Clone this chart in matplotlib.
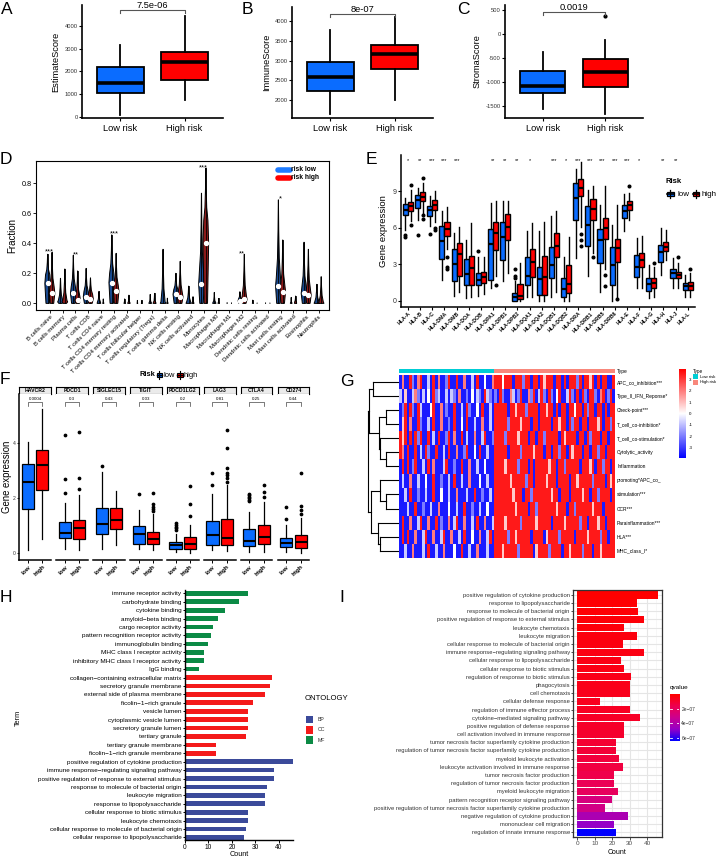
import numpy as np
import matplotlib
matplotlib.use('Agg')
import matplotlib.pyplot as plt
from matplotlib.patches import Rectangle, Polygon
from matplotlib.colors import LinearSegmentedColormap, Normalize

plt.rcParams['font.family'] = ['Liberation Sans', 'DejaVu Sans']

# ======================= DATA =======================
# A-C : ESTIMATE scores  [whisker_lo, q1, median, q3, whisker_hi]
risk_groups = ['Low risk', 'High risk']
estimate_low = [100, 1050, 1500, 2180, 3150]
estimate_high = [750, 1620, 2400, 2850, 4450]
immune_low = [1630, 2230, 2580, 2965, 3770]
immune_high = [1990, 2780, 3160, 3400, 4110]
stroma_low = [-1570, -1240, -1085, -780, -380]
stroma_high = [-1670, -1105, -795, -530, -140]
stroma_high_outliers = [366]
score_pvalues = ['7.5e-06', '8e-07', '0.0019']

# D : CIBERSORT fractions
cell_types = ['B cells naive', 'B cells memory', 'Plasma cells', 'T cells CD8', 'T cells CD4 naive',
              'T cells CD4 memory resting', 'T cells CD4 memory activated', 'T cells follicular helper',
              'T cells regulatory (Tregs)', 'T cells gamma delta', 'NK cells resting', 'NK cells activated',
              'Monocytes', 'Macrophages M0', 'Macrophages M1', 'Macrophages M2', 'Dendritic cells resting',
              'Dendritic cells activated', 'Mast cells resting', 'Mast cells activated', 'Eosinophils', 'Neutrophils']
frac_low_max = [0.327, 0.167, 0.32, 0.233, 0.08, 0.456, 0.03, 0.02, 0.06, 0.36, 0.2, 0.115,
                0.733, 0.073, 0.005, 0.078, 0.022, 0.004, 0.689, 0.04, 0.407, 0.127]
frac_low_med = [0.133, 0.01, 0.067, 0.044, 0.0, 0.138, 0.0, 0.0, 0.0, 0.0, 0.06, 0.0,
                0.127, 0.0, 0.0, 0.018, 0.0, 0.0, 0.116, 0.0, 0.067, 0.0]
frac_low_q3 = [0.19, 0.02, 0.11, 0.08, 0.01, 0.2, 0.0, 0.0, 0.0, 0.01, 0.09, 0.01,
               0.21, 0.0, 0.0, 0.03, 0.0, 0.0, 0.17, 0.0, 0.11, 0.01]
frac_high_max = [0.34, 0.229, 0.216, 0.17, 0.03, 0.333, 0.055, 0.02, 0.067, 0.035, 0.28, 0.045,
                 0.9, 0.033, 0.004, 0.327, 0.003, 0.003, 0.422, 0.049, 0.36, 0.178]
frac_high_med = [0.067, 0.01, 0.02, 0.03, 0.0, 0.082, 0.0, 0.0, 0.0, 0.0, 0.044, 0.0,
                 0.4, 0.0, 0.0, 0.027, 0.0, 0.0, 0.078, 0.0, 0.056, 0.0]
frac_high_q3 = [0.11, 0.02, 0.05, 0.06, 0.0, 0.12, 0.0, 0.0, 0.0, 0.0, 0.07, 0.0,
                0.55, 0.0, 0.0, 0.05, 0.0, 0.0, 0.12, 0.01, 0.09, 0.01]
frac_sig = ['***', '', '**', '', '', '***', '', '', '', '', '', '', '***', '', '', '**', '', '', '*', '', '', '']

# E : HLA genes
hla_genes = ['HLA-A', 'HLA-B', 'HLA-C', 'HLA-DMA', 'HLA-DMB', 'HLA-DOA', 'HLA-DOB', 'HLA-DPA1', 'HLA-DPB1',
             'HLA-DPB2', 'HLA-DQA1', 'HLA-DQA2', 'HLA-DQB1', 'HLA-DQB2', 'HLA-DRA', 'HLA-DRB1', 'HLA-DRB5',
             'HLA-DRB6', 'HLA-E', 'HLA-F', 'HLA-G', 'HLA-H', 'HLA-J', 'HLA-L']
hla_low = [[5.84, 7.02, 7.49, 7.98, 8.45], [6.66, 7.62, 8.31, 8.73, 9.28], [6.11, 6.94, 7.43, 7.76, 8.59],
           [1.7, 3.41, 4.95, 6.17, 7.35], [0.41, 1.65, 3.0, 4.24, 5.56], [0.19, 1.29, 2.2, 3.41, 5.0],
           [0.39, 1.29, 1.71, 2.26, 3.58], [1.02, 1.71, 4.65, 5.92, 8.04], [1.65, 3.36, 5.23, 6.52, 8.17],
           [0.0, 0.0, 0.33, 0.66, 1.6], [0.33, 1.29, 2.04, 3.58, 5.7], [0.0, 0.47, 1.76, 2.75, 5.7],
           [0.33, 1.84, 2.95, 4.4, 6.94], [0.0, 0.33, 0.94, 1.9, 3.63], [3.5, 6.66, 8.45, 9.69, 10.87],
           [2.04, 4.54, 6.25, 7.82, 9.08], [0.74, 3.08, 5.0, 5.89, 7.9], [0.0, 1.29, 2.95, 4.38, 6.25],
           [5.7, 6.8, 7.4, 7.9, 8.81], [1.02, 1.98, 2.81, 3.77, 5.15], [0.19, 0.83, 1.35, 1.84, 2.95],
           [2.12, 3.22, 3.99, 4.6, 5.97], [1.02, 1.84, 2.26, 2.59, 3.5], [0.33, 0.88, 1.21, 1.49, 2.12]]
hla_low_out = [[5.42, 5.23], [5.42], [5.48], [], [], [], [4.05], [], [], [1.84, 2.03, 2.6], [], [],
               [], [], [], [], [], [], [], [], [], [], [], []]
hla_high = [[6.6, 7.35, 7.76, 8.12, 9.14], [7.2, 8.17, 8.5, 8.92, 9.69], [6.52, 7.49, 7.9, 8.26, 9.0],
            [4.24, 5.34, 5.92, 6.52, 7.71], [0.74, 2.04, 3.83, 4.79, 6.06], [0.33, 1.29, 2.67, 3.69, 6.39],
            [0.55, 1.43, 1.98, 2.34, 3.6], [2.0, 4.18, 5.56, 6.52, 8.17], [2.26, 5.0, 6.06, 7.16, 8.17],
            [0.0, 0.14, 0.41, 1.38, 3.08], [0.33, 1.93, 3.22, 4.24, 6.39], [0.0, 0.47, 1.98, 3.69, 6.52],
            [0.74, 3.63, 4.54, 5.56, 7.35], [0.0, 0.6, 1.35, 2.95, 5.28], [6.1, 8.59, 9.28, 10.02, 11.4],
            [3.9, 6.66, 7.54, 8.37, 9.41], [2.6, 5.06, 5.97, 6.85, 9.41], [0.33, 3.22, 4.32, 5.09, 7.9],
            [6.61, 7.49, 7.9, 8.17, 8.86], [1.02, 2.75, 3.36, 3.96, 5.34], [0.33, 1.02, 1.43, 1.9, 2.75],
            [3.36, 4.05, 4.46, 4.82, 5.84], [1.02, 1.84, 2.12, 2.4, 3.08], [0.33, 0.88, 1.21, 1.51, 2.26]]
hla_high_out = [[9.55, 6.25], [10.1, 7.05, 6.72], [5.97, 5.78], [3.58, 2.8, 2.6], [], [], [], [1.29], [],
                [], [], [], [], [], [5.5, 5.0, 4.5], [3.58], [2.12, 1.21], [0.14], [9.47], [], [3.14],
                [], [3.58], [2.6]]
hla_sig = ['*', '**', '***', '***', '***', '', '', '**', '**', '**', '*', '', '***', '*', '***', '***',
           '***', '***', '***', '*', '', '**', '**', '']

# F : immune checkpoints
ck_genes = ['HAVCR2', 'PDCD1', 'SIGLEC15', 'TIGIT', 'PDCD1LG2', 'LAG3', 'CTLA4', 'CD274']
ck_low = [[0.12, 1.61, 2.58, 3.27, 4.06], [0.16, 0.55, 0.75, 1.13, 1.84], [0.16, 0.7, 1.07, 1.64, 2.95],
          [0.16, 0.36, 0.69, 0.99, 1.58], [0.06, 0.16, 0.3, 0.42, 0.7], [0.12, 0.3, 0.67, 1.18, 2.15],
          [0.06, 0.27, 0.46, 0.88, 1.52], [0.06, 0.22, 0.39, 0.55, 1.05]]
ck_low_out = [[], [2.2, 2.7, 4.3], [3.19], [2.16], [0.85, 0.92, 0.97, 1.03, 1.1], [2.48, 2.91],
              [1.9, 1.95, 2.0, 2.06, 2.12, 2.16], [1.27, 1.7]]
ck_high = [[0.51, 2.3, 3.21, 3.78, 5.25], [0.12, 0.51, 0.93, 1.21, 2.12], [0.3, 0.87, 1.21, 1.64, 2.27],
           [0.12, 0.36, 0.52, 0.79, 1.45], [0.02, 0.16, 0.36, 0.61, 1.05], [0.1, 0.3, 0.55, 1.24, 2.5],
           [0.06, 0.33, 0.61, 1.03, 1.88], [0.02, 0.18, 0.42, 0.67, 1.3]]
ck_high_out = [[], [2.34, 2.75, 4.42], [], [1.55, 1.62, 1.7, 1.79, 2.2], [1.37, 1.79, 2.45],
               [2.6, 2.75, 2.85, 2.93, 3.1, 3.82, 4.48], [2.06, 2.24, 2.5], [1.45, 1.58, 1.73, 2.93]]
ck_pvals = ['0.0004', '0.3', '0.43', '0.03', '0.2', '0.81', '0.25', '0.44']

# G : immune function ssGSEA heatmap (z-scores coded per sample)
immune_functions = ['APC_co_inhibition***', 'Type_II_IFN_Reponse*', 'Check-point***', 'T_cell_co-inhibition*',
                    'T_cell_co-stimulation*', 'Cytolytic_activity', 'Inflammation', 'promoting*APC_co_',
                    'stimulation***', 'CCR***', 'Parainflammation***', 'HLA***', 'MHC_class_I*']
heat_levels = {'B': -3.5, 'b': -2.0, 'l': -0.8, 'w': 0.0, 'o': 0.8, 'r': 2.0, 'R': 3.5}
heat_low = ["BrBBRbBrRB BlBRBrBBbR BBRBBrBBlB RBBwBBr",
            "lBoBBlrbBl BwBRblBBlB lbBrBBbBwB lbBRlbB",
            "BbRBRbBRlB BBwRBBrBbB BRBBlBRbBB wBRBBlB",
            "BoRBrBBRbB BlBRBBrBBb BRBBwBRBBl BBrBBlB",
            "RoRBRBRbRB BRBlBRBBbR BrBBRBlBBr BBlRBBb",
            "RrBRBBRBlB RbBBRBBlBR BBrBBbRBBw BRBBlBB",
            "BRBRBbRBBl BRBrBBBlRB BbBBRBBrBB lBBwBBB",
            "BlBBrBBlBB wBBRBBbBBl BRBBlBBrBB BwBBlBB",
            "BBlBRBBbBB lBBRBBwBBl BBrBBBlBBR BBbBBlB",
            "BBBlBBRBBb BBlBBrBBBw BBlBBRBBbB BlBBwBB",
            "BRBBrBBlRB BrBBRBbBBr BlRBBrBBlB RBBrBBl",
            "BRBRBBrBBl RBBrBBlRBB rBBlBRBBwB BrBBlRB",
            "BBlBBrBBBl BRBBlBBrBB BwBBRBBlBB rBBBlBB"]
heat_high = ["RRRwRRRBRR RbRRBRRBRo RRRBRRBRBR RRbRBRRoRB RBRRBBR",
             "bBRbBBrlBb RBBrbRBlRb BRbBwRBBlR bBRBRbBRRb BrRBbRB",
             "RRRRRBRRoR RRbRRRRBRR oRRBRBRRBR RwRRBRbRRB RRBRBRR",
             "RRRRRbRRRR oRRRBRRBRR RRBRRoRRBR bRRBRRBRRR oRBRRbR",
             "RRRRbRRRRo RRRBRRBRRb RRRRRBRoRR RRBRRBRbRR RBRRBRR",
             "RRRRRBRRRR bRRRRoRRRB RRBRRbRRBR oRRRBRRBRR bRRBRRR",
             "RRRRoRRRRb RRRBRBRRRR RoRRBRRbRR RRRBRRRoRB RRbRRBR",
             "RRRRRRoRRR RRbRRBRRRR oRRRBRRRRB RRoRRRRRbR RRRBRoR",
             "RRRRRRRoRR RBRRbRRRRR RRoRRBRRRB RRRRoRRBRR bRRRRBR",
             "RRRRRRRRoR RRRBRRbRRR RRRRoRRRBR RbRRRRRRoR RRBRRRR",
             "RRRRoRRRRR bRRRRRoRRR RRBRRRRoRR RRRbRRBRRR oRRBRRR",
             "RRRRRbRRoR RRRRBRRRRB oRRRRbRRRR RBRRRRoRRR RbRRBRR",
             "RRRoRRRRRb RRRRRBoRRR RbRRRRBRRo RRRRbRRRBR RoRRRRR"]
# dendrogram merges (child a, child b, height); leaves 0..12 in row order
dendro_merges = [(0, 1, 0.83), (2, 3, 0.42), (5, 6, 0.42), (4, 15, 0.59), (14, 16, 0.63),
                 (13, 17, 0.96), (8, 9, 0.40), (7, 19, 0.59), (11, 12, 0.59), (10, 21, 0.67),
                 (20, 22, 0.88), (18, 23, 1.0)]

# H : GO enrichment (top to bottom)
go_terms = ['immune receptor activity', 'carbohydrate binding', 'cytokine binding', 'amyloid\u2212beta binding',
            'cargo receptor activity', 'pattern recognition receptor activity', 'immunoglobulin binding',
            'MHC class I receptor activity', 'inhibitory MHC class I receptor activity', 'IgG binding',
            'collagen\u2212containing extracellular matrix', 'secretory granule membrane',
            'external side of plasma membrane', 'ficolin\u22121\u2212rich granule', 'vesicle lumen',
            'cytoplasmic vesicle lumen', 'secretory granule lumen', 'tertiary granule',
            'tertiary granule membrane', 'ficolin\u22121\u2212rich granule membrane',
            'positive regulation of cytokine production', 'immune response\u2212regulating signaling pathway',
            'positive regulation of response to external stimulus', 'response to molecule of bacterial origin',
            'leukocyte migration', 'response to lipopolysaccharide', 'cellular response to biotic stimulus',
            'leukocyte chemotaxis', 'cellular response to molecule of bacterial origin',
            'cellular response to lipopolysaccharide']
go_counts = [27, 23, 17, 14, 12, 11, 10, 8, 8, 6, 37, 36, 34, 29, 27, 27, 27, 26, 13, 13,
             46, 38, 38, 35, 34, 34, 27, 27, 26, 25]
go_ontology = ['MF'] * 10 + ['CC'] * 10 + ['BP'] * 10

# I : BP enrichment (top to bottom)
bp_terms = ['positive regulation of cytokine production', 'response to lipopolysaccharide',
            'response to molecule of bacterial origin', 'positive regulation of response to external stimulus',
            'leukocyte chemotaxis', 'leukocyte migration', 'cellular response to molecule of bacterial origin',
            'immune response\u2212regulating signaling pathway', 'cellular response to lipopolysaccharide',
            'cellular response to biotic stimulus', 'regulation of response to biotic stimulus', 'phagocytosis',
            'cell chemotaxis', 'cellular defense response', 'regulation of immune effector process',
            'cytokine\u2212mediated signaling pathway', 'positive regulation of defense response',
            'cell activation involved in immune response',
            'tumor necrosis factor superfamily cytokine production',
            'regulation of tumor necrosis factor superfamily cytokine production',
            'myeloid leukocyte activation', 'leukocyte activation involved in immune response',
            'tumor necrosis factor production', 'regulation of tumor necrosis factor production',
            'myeloid leukocyte migration', 'pattern recognition receptor signaling pathway',
            'positive regulation of tumor necrosis factor superfamily cytokine production',
            'negative regulation of cytokine production', 'mononuclear cell migration',
            'regulation of innate immune response']
bp_counts = [46, 34, 35, 38, 27, 34, 26, 38, 25, 27, 31, 30, 30, 13, 30, 36, 27, 27, 22, 22,
             24, 26, 21, 21, 23, 20, 16, 29, 21, 22]
bp_qvalues = [1.0e-8, 1.5e-8, 2.0e-8, 2.5e-8, 3.0e-8, 3.5e-8, 4.0e-8, 4.5e-8, 5.0e-8, 5.0e-8,
              5.5e-8, 6.0e-8, 6.5e-8, 7.0e-8, 8.0e-8, 8.5e-8, 9.0e-8, 1.0e-7, 1.1e-7, 1.2e-7,
              1.3e-7, 1.4e-7, 1.6e-7, 1.8e-7, 2.0e-7, 2.8e-7, 3.0e-7, 4.2e-7, 4.8e-7, 6.4e-7]

# ======================= FIGURE =======================
W, H = 719, 858
fig = plt.figure(figsize=(W / 100, H / 100), dpi=100)
fig.patch.set_facecolor('white')
BLUE = '#0A6CFF'
RED = '#FF0000'


def axp(l, t, r, b, **kw):
    return fig.add_axes([l / W, 1 - b / H, (r - l) / W, (b - t) / H], **kw)


def ftext(x, y, s, **kw):
    fig.text(x / W, 1 - y / H, s, **kw)


def overlay(l, t, r, b):
    ax = axp(l, t, r, b)
    ax.set_xlim(0, r - l)
    ax.set_ylim(b - t, 0)
    ax.axis('off')
    return ax


def make_stats(s, out=()):
    return dict(whislo=s[0], q1=s[1], med=s[2], q3=s[3], whishi=s[4], fliers=list(out))


def boxes(ax, stats, pos, colors, width, lw, mlw, ms):
    bp = ax.bxp(stats, positions=pos, widths=width, patch_artist=True, showcaps=False,
                boxprops=dict(linewidth=lw, edgecolor='black'),
                whiskerprops=dict(linewidth=lw, color='black'),
                medianprops=dict(linewidth=mlw, color='black', solid_capstyle='butt'),
                flierprops=dict(marker='o', markersize=ms, markerfacecolor='black',
                                markeredgecolor='black', linestyle='none'),
                manage_ticks=False)
    for b, c in zip(bp['boxes'], colors):
        b.set_facecolor(c)
    return bp


def glyph(ax, x0, x1, y0, y1, color, lw=0.8):
    xc = (x0 + x1) / 2
    ax.plot([xc, xc], [y0, y1], color='black', lw=lw)
    h = y1 - y0
    ax.add_patch(Rectangle((x0, y0 + 0.25 * h), x1 - x0, 0.5 * h, facecolor=color, edgecolor='black', lw=lw))
    ax.plot([x0, x1], [y0 + 0.5 * h, y0 + 0.5 * h], color='black', lw=lw * 1.3)


# panel letters
for lab, x, y in [('A', 1, 9), ('B', 242, 9), ('C', 457, 9), ('D', 0, 160), ('E', 366, 160),
                  ('F', 0, 380), ('G', 340, 381), ('H', 0, 598), ('I', 339, 598)]:
    ftext(x, y, lab, fontsize=12.5, va='center', ha='left')


# ---------------- A-C ----------------
def score_panel(box, low, high, high_out, ylim, yticks, ylabel, pval, by, drop):
    ax = axp(*box)
    boxes(ax, [make_stats(low), make_stats(high, high_out)], [1, 2], [BLUE, RED], 0.72, 1.3, 2.6, 2.0)
    ax.set_xlim(0.4, 2.6)
    ax.set_ylim(*ylim)
    ax.set_yticks(yticks, [str(v) for v in yticks])
    ax.set_xticks([1, 2], risk_groups)
    for s in ['top', 'right']:
        ax.spines[s].set_visible(False)
    for s in ['left', 'bottom']:
        ax.spines[s].set_linewidth(1.2)
    ax.tick_params(axis='y', labelsize=4.2, length=2, width=0.8, pad=1, labelcolor='#333333')
    ax.tick_params(axis='x', labelsize=6.7, length=2.5, width=0.8, pad=2)
    ax.set_ylabel(ylabel, fontsize=6.7, labelpad=3)
    ax.plot([1, 1, 2, 2], [by - drop, by, by, by - drop], color='#555555', lw=0.8, clip_on=False)
    ax.text(1.5, by, pval, ha='center', va='bottom', fontsize=6.7, clip_on=False)
    return ax


score_panel((82, 5, 223, 118), estimate_low, estimate_high, [], (-44, 4920), [0, 1000, 2000, 3000, 4000],
            'EstimateScore', score_pvalues[0], 4700, 140)
score_panel((292, 7, 433, 118), immune_low, immune_high, [], (1535, 4370), [2000, 2500, 3000, 3500, 4000],
            'ImmuneScore', score_pvalues[1], 4185, 76)
score_panel((505, 5, 643, 118), stroma_low, stroma_high, stroma_high_outliers, (-1760, 600),
            [-1500, -1000, -500, 0, 500], 'StromaScore', score_pvalues[2], 462, 62)

# ---------------- D ----------------
axD = axp(36, 161, 328.5, 310)
axD.set_xlim(-1.08, 21.74)
axD.set_ylim(-0.044, 0.947)


def violin(ax, x, vmax, med, q3, color):
    if vmax < 0.003:
        return
    wm = 0.22 * min(1.0, vmax / 0.12)
    q3 = max(q3, med)
    ys = [0.0, med, q3, q3 + 0.25 * (vmax - q3), q3 + 0.6 * (vmax - q3), vmax]
    ws = [0.6, 1.0, 0.75, 0.32, 0.13, 0.02]
    yy, ww = [], []
    for y, w in zip(ys, ws):
        if yy and y <= yy[-1]:
            ww[-1] = max(ww[-1], w)
            continue
        yy.append(y)
        ww.append(w)
    yy = np.array(yy)
    ww = np.array(ww) * wm
    pts = np.concatenate([np.column_stack([x - ww, yy]), np.column_stack([x + ww, yy])[::-1]])
    ax.add_patch(Polygon(pts, closed=True, facecolor=color, edgecolor='black', lw=0.7, zorder=2))
    ax.plot([x, x], [0, vmax], color='black', lw=0.6, zorder=3)
    if med > 0.015:
        ax.plot([x], [med], 'o', ms=2.8, color='white', mec='white', zorder=4)


for i in range(len(cell_types)):
    violin(axD, i - 0.17, frac_low_max[i], frac_low_med[i], frac_low_q3[i], '#1A4A8F')
    violin(axD, i + 0.17, frac_high_max[i], frac_high_med[i], frac_high_q3[i], '#8B1A1A')
    if frac_sig[i]:
        axD.text(i, max(frac_low_max[i], frac_high_max[i]) + 0.004, frac_sig[i], ha='center',
                 va='center', fontsize=5.5)
axD.set_xticks(range(len(cell_types)))
axD.set_xticklabels(cell_types, rotation=45, ha='right', rotation_mode='anchor', fontsize=4.3)
axD.set_yticks([0, 0.2, 0.4, 0.6, 0.8], ['0.0', '0.2', '0.4', '0.6', '0.8'])
axD.tick_params(axis='y', labelsize=5.2, length=2, width=0.6, pad=1)
axD.tick_params(axis='x', length=2, width=0.6, pad=1)
for s in axD.spines.values():
    s.set_linewidth(0.8)
axD.set_ylabel('Fraction', fontsize=7, labelpad=3)
axD.plot([0.826, 0.868], [0.94, 0.94], transform=axD.transAxes, color='#1E7BFF', lw=4,
         solid_capstyle='round')
axD.plot([0.826, 0.868], [0.886, 0.886], transform=axD.transAxes, color='#FF0000', lw=4,
         solid_capstyle='round')
axD.text(0.872, 0.94, 'risk low', transform=axD.transAxes, fontsize=4.8, fontweight='bold', va='center')
axD.text(0.872, 0.886, 'risk high', transform=axD.transAxes, fontsize=4.8, fontweight='bold', va='center')

# ---------------- E ----------------
axE = axp(400.7, 155, 695, 306.7)
nE = len(hla_genes)
posE = np.arange(1, nE + 1)
statsE, colsE, pE = [], [], []
for i in range(nE):
    statsE += [make_stats(hla_low[i], hla_low_out[i]), make_stats(hla_high[i], hla_high_out[i])]
    colsE += [BLUE, RED]
    pE += [posE[i] - 0.21, posE[i] + 0.21]
boxes(axE, statsE, pE, colsE, 0.42, 1.0, 1.6, 1.9)
axE.set_xlim(0.4, nE + 0.6)
axE.set_ylim(-0.5, 12.0)
for i in range(nE):
    if hla_sig[i]:
        axE.text(posE[i], 11.55, hla_sig[i], ha='center', va='center', fontsize=4)
axE.set_xticks(posE)
axE.set_xticklabels(hla_genes, rotation=45, ha='right', rotation_mode='anchor', fontsize=3.7,
                    fontweight='bold')
axE.set_yticks([0, 3, 6, 9])
axE.tick_params(axis='y', labelsize=5, length=2, width=0.8, pad=1, labelcolor='#333333')
axE.tick_params(axis='x', length=2, width=0.8, pad=1)
for s in ['top', 'right']:
    axE.spines[s].set_visible(False)
for s in ['left', 'bottom']:
    axE.spines[s].set_linewidth(1.1)
axE.set_ylabel('Gene expression', fontsize=6.8, labelpad=3)
legE = overlay(655, 170, 719, 205)
legE.text(10, 11.7, 'Risk', fontsize=5.6, fontweight='bold', va='center')
glyph(legE, 11.5, 18.5, 20, 28, BLUE, lw=0.9)
legE.text(23, 24.5, 'low', fontsize=5.8, va='center')
glyph(legE, 37.5, 44, 20, 28, RED, lw=0.9)
legE.text(46.5, 24.5, 'high', fontsize=5.8, va='center')

# ---------------- F ----------------
for i, g in enumerate(ck_genes):
    l = 19.3 + 36.9 * i
    r = l + 31.7
    st = axp(l, 386.7, r, 394)
    st.set_xticks([])
    st.set_yticks([])
    st.set_facecolor('#EBEBEB')
    for s in st.spines.values():
        s.set_linewidth(0.8)
    st.text(0.5, 0.45, g, ha='center', va='center', fontsize=3.7, fontweight='bold', transform=st.transAxes)
    ax = axp(l, 394, r, 560)
    boxes(ax, [make_stats(ck_low[i], ck_low_out[i]), make_stats(ck_high[i], ck_high_out[i])], [1, 2],
          [BLUE, RED], 0.85, 0.9, 1.5, 1.7)
    ax.set_xlim(0.4, 2.6)
    ax.set_ylim(-0.24, 5.8)
    ax.plot([1, 1, 2, 2], [5.36, 5.5, 5.5, 5.36], color='#444444', lw=0.5)
    ax.text(1.5, 5.63, ck_pvals[i], ha='center', va='center', fontsize=3.2)
    for s in ['top', 'right', 'left']:
        ax.spines[s].set_visible(False)
    ax.spines['bottom'].set_linewidth(1.1)
    ax.set_xticks([1, 2])
    ax.set_xticklabels(['low', 'high'], rotation=45, ha='right', rotation_mode='anchor', fontsize=4.6,
                       fontweight='bold')
    ax.tick_params(axis='x', length=2, width=0.7, pad=1)
    if i == 0:
        ax.spines['left'].set_visible(True)
        ax.spines['left'].set_linewidth(1.1)
        ax.set_yticks([0, 2, 4])
        ax.tick_params(axis='y', labelsize=3.6, length=1.5, width=0.6, pad=1, labelcolor='#333333')
    else:
        ax.set_yticks([])
ftext(6.5, 477, 'Gene expression', fontsize=6.9, ha='center', va='center', rotation=90)
legF = overlay(135, 368, 200, 382)
legF.text(4.3, 7, 'Risk', fontsize=5.4, fontweight='bold', va='center')
glyph(legF, 21.5, 27, 3, 11, BLUE, lw=0.8)
legF.text(28, 7.8, 'low', fontsize=5.4, va='center')
glyph(legF, 42, 48, 3, 11, RED, lw=0.8)
legF.text(49, 7.8, 'high', fontsize=5.4, va='center')

# ---------------- G ----------------
def decode(s, n):
    s = s.replace(' ', '')
    s = (s + 'w' * n)[:n]
    return [heat_levels[c] for c in s]


heat = np.array([decode(lo, 37) + decode(hi, 47) for lo, hi in zip(heat_low, heat_high)])
ncol = heat.shape[1]
cmapG = LinearSegmentedColormap.from_list('bwr2', ['#0000FF', '#FFFFFF', '#FF0000'])
axG = axp(399.3, 375, 615, 557.7)
axG.imshow(heat, cmap=cmapG, vmin=-3.9, vmax=3.9, aspect='auto', interpolation='nearest',
           extent=(0, ncol, 13, 0))
axG.set_xticks([])
axG.yaxis.tick_right()
axG.set_yticks(np.arange(13) + 0.5)
axG.set_yticklabels(immune_functions, fontsize=3.5)
axG.tick_params(axis='y', length=0, pad=1.5)
for s in axG.spines.values():
    s.set_visible(False)
axT = axp(399.3, 369.3, 615, 373.3)
axT.imshow(np.array([[0] * 37 + [1] * 47]), cmap=LinearSegmentedColormap.from_list('t', ['#00CDD5', '#F8877B']),
           aspect='auto', interpolation='nearest', extent=(0, ncol, 1, 0))
axT.set_xticks([])
axT.set_yticks([])
for s in axT.spines.values():
    s.set_visible(False)
ftext(616.5, 371.3, 'Type', fontsize=3.5, va='center')

axDen = axp(367, 375, 398.5, 557.7)
axDen.set_xlim(1.02, 0)
axDen.set_ylim(13, 0)
axDen.axis('off')
node_y = {i: i + 0.5 for i in range(13)}
node_h = {i: 0.0 for i in range(13)}
for k, (a, b, h) in enumerate(dendro_merges):
    nid = 13 + k
    for c in (a, b):
        axDen.plot([node_h[c], h], [node_y[c], node_y[c]], color='black', lw=0.8)
    axDen.plot([h, h], [node_y[a], node_y[b]], color='black', lw=0.8)
    node_y[nid] = (node_y[a] + node_y[b]) / 2
    node_h[nid] = h

axGcb = axp(679.3, 369.3, 686, 457.7)
grad = np.linspace(3.9, -3.9, 256)[:, None]
axGcb.imshow(grad, cmap=cmapG, vmin=-3.9, vmax=3.9, aspect='auto', extent=(0, 1, -3.9, 3.9))
axGcb.set_xticks([])
axGcb.yaxis.tick_right()
axGcb.set_yticks([3, 2, 1, 0, -1, -2, -3], ['3', '2', '1', '0', '-1', '-2', '-3'])
axGcb.tick_params(axis='y', labelsize=3.2, length=0, pad=2)
for s in axGcb.spines.values():
    s.set_visible(False)
legG = overlay(690, 366, 719, 388)
legG.text(3.3, 5.7, 'Type', fontsize=3.3, va='center')
legG.add_patch(Rectangle((2.7, 8.3), 5.6, 5, facecolor='#00CDD5', edgecolor='none'))
legG.add_patch(Rectangle((2.7, 14), 5.6, 5, facecolor='#F8877B', edgecolor='none'))
legG.text(10, 10.8, 'Low risk', fontsize=3.1, va='center')
legG.text(10, 16.5, 'High risk', fontsize=3.1, va='center')

# ---------------- H ----------------
ont_colors = {'BP': '#3B4A9A', 'CC': '#F41A1A', 'MF': '#0B8A45'}
axH = axp(185, 590, 293, 840)
nH = len(go_terms)
yH = np.arange(nH, 0, -1)
axH.barh(yH, go_counts, height=0.55, color=[ont_colors[o] for o in go_ontology], edgecolor='none')
axH.set_xlim(0, 46)
axH.set_ylim(0.7, nH + 0.4)
axH.set_yticks(yH)
axH.set_yticklabels(go_terms, fontsize=4.6)
axH.set_xticks([0, 10, 20, 30, 40])
axH.tick_params(axis='x', labelsize=4.8, length=2, width=0.7, pad=1)
axH.tick_params(axis='y', length=1.5, width=0.7, pad=1)
for s in ['top', 'right']:
    axH.spines[s].set_visible(False)
for s in ['left', 'bottom']:
    axH.spines[s].set_linewidth(1.0)
ftext(239, 854, 'Count', fontsize=5.2, ha='center', va='center')
ftext(18, 718, 'Term', fontsize=5.2, ha='center', va='center', rotation=90)
legH = overlay(300, 690, 345, 750)
legH.text(5, 8.3, 'ONTOLOGY', fontsize=5.6, va='center')
for j, o in enumerate(['BP', 'CC', 'MF']):
    legH.add_patch(Rectangle((6, 26 + 10.2 * j), 7.3, 7.3, facecolor=ont_colors[o], edgecolor='none'))
    legH.text(18, 29.7 + 10.2 * j, o, fontsize=3.8, va='center', color='#333333')

# ---------------- I ----------------
cmapI = LinearSegmentedColormap.from_list('q', ['#FF0000', '#EE0050', '#CC0090', '#9500C8', '#0000FF'])
normI = Normalize(vmin=1e-8, vmax=6.4e-7)
axI = axp(573.3, 590, 661.7, 837.3)
nI = len(bp_terms)
yI = np.arange(nI, 0, -1)
axI.set_xlim(-2.3, 48.3)
axI.set_ylim(0.4, nI + 0.6)
for xv in [5, 15, 25, 35, 45]:
    axI.axvline(xv, color='#F2F2F2', lw=0.4, zorder=0)
for xv in [0, 10, 20, 30, 40]:
    axI.axvline(xv, color='#E5E5E5', lw=0.8, zorder=0)
for yv in yI:
    axI.axhline(yv, color='#E5E5E5', lw=0.8, zorder=0)
axI.barh(yI, bp_counts, height=0.9, color=[cmapI(normI(q)) for q in bp_qvalues], edgecolor='none', zorder=2)
axI.set_yticks(yI)
axI.set_yticklabels(bp_terms, fontsize=4.2, color='#333333')
axI.set_xticks([0, 10, 20, 30, 40])
axI.tick_params(axis='x', labelsize=4.6, length=1.8, width=0.6, pad=0.8, labelcolor='#4D4D4D', color='#333333')
axI.tick_params(axis='y', length=1.5, width=0.6, pad=1, color='#333333')
for s in axI.spines.values():
    s.set_linewidth(0.9)
    s.set_color('#333333')
ftext(617, 852, 'Count', fontsize=5.0, ha='center', va='center')
axIcb = axp(670, 694, 679.3, 741)
gq = np.linspace(0.35e-8, 6.4e-7, 256)[:, None]
axIcb.imshow(gq, cmap=cmapI, norm=normI, aspect='auto', extent=(0, 1, 6.4e-7, 0.35e-8), origin='upper')
axIcb.set_ylim(6.4e-7, 0.35e-8)
axIcb.set_xticks([])
axIcb.yaxis.tick_right()
axIcb.set_yticks([2e-7, 4e-7, 6e-7], ['2e\u221207', '4e\u221207', '6e\u221207'])
axIcb.tick_params(axis='y', labelsize=3.5, length=0, pad=1.5, labelcolor='#333333')
for yv in [2e-7, 4e-7, 6e-7]:
    axIcb.plot([0, 0.2], [yv, yv], color='white', lw=0.6)
    axIcb.plot([0.8, 1], [yv, yv], color='white', lw=0.6)
for s in axIcb.spines.values():
    s.set_visible(False)
ftext(670, 688, 'qvalue', fontsize=4.6, va='center')

fig.savefig('out.png', dpi=100)
